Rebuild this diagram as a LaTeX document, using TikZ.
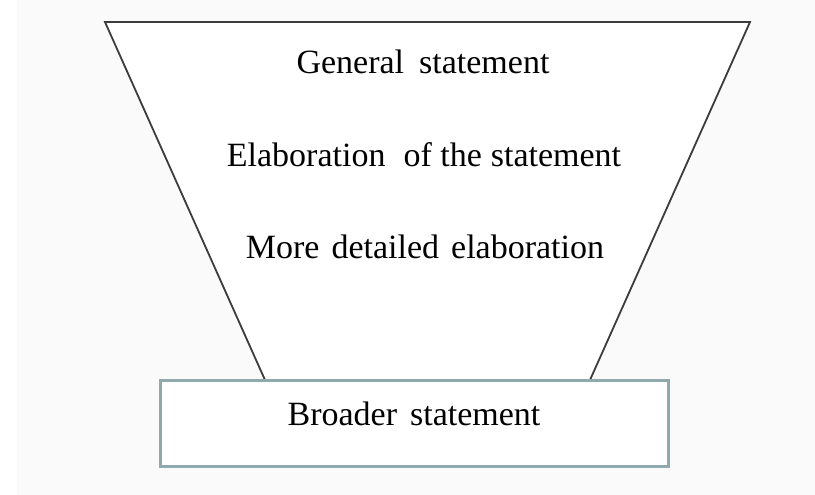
\documentclass[tikz,border=0pt]{standalone}
\usepackage{fontspec}
\setmainfont{Liberation Serif}
\definecolor{bgcol}{HTML}{FAFAFA}
\definecolor{funnelline}{HTML}{3C3C3C}
\definecolor{boxline}{HTML}{8FA9AD}
\tikzset{
  funneltext/.style={anchor=base, font=\fontsize{34}{40}\selectfont, text=black, inner sep=0pt},
  broadbox/.style={draw=boxline, line width=3pt, fill=white, minimum width=508pt, minimum height=86pt,
    font=\fontsize{34}{40}\selectfont, text height=14pt, text depth=10pt, inner sep=0pt},
  funnel/.style={draw=funnelline, line width=1.8pt, fill=white, line join=miter}
}
\begin{document}
\begin{tikzpicture}[x=1pt,y=-1pt]
  \useasboundingbox (0,0) rectangle (815,495);
  \fill[bgcol] (0,0) rectangle (815,495);
  \fill[white] (0,0) rectangle (17,495);
  \coordinate (tl) at (105,22);
  \coordinate (tr) at (750,22);
  \coordinate (bl) at (265,380);
  \coordinate (br) at (590,380);
  \draw[funnel] (tl) -- (tr) -- (br) -- (bl) -- cycle;
  \node[broadbox] (broad) at (414,423) {Broader\hspace{13pt}statement};
  \node[funneltext] (gen) at (423,74) {General\hspace{15pt}statement};
  \node[funneltext] (elab) at (424,167) {Elaboration\hspace{18pt}of the\hspace{9pt}statement};
  \node[funneltext] (more) at (425,258) {More\hspace{12pt}detailed\hspace{12pt}elaboration};
\end{tikzpicture}
\end{document}
